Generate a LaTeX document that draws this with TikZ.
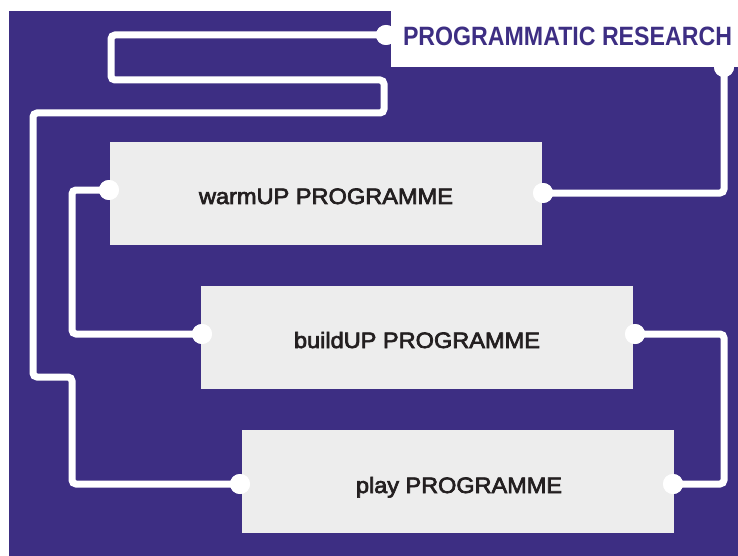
\documentclass[tikz,border=0pt]{standalone}
\usepackage{fontspec}
\setmainfont{Liberation Sans}
% medium-weight face for the programme labels
\newfontfamily\mediumface[FakeBold=3]{Liberation Sans}
\definecolor{deeppurple}{RGB}{61,46,131}
\definecolor{boxgray}{RGB}{237,237,237}
\definecolor{inkdark}{RGB}{35,31,32}
% set a label at a given size, stretched horizontally to a given width
\newcommand{\fitwidth}[3]{\resizebox{#1}{\height}{\fontsize{#2}{#2}\selectfont\bfseries #3}}
\newcommand{\fitmedium}[3]{\resizebox{#1}{\height}{\fontsize{#2}{#2}\selectfont\mediumface #3}}
\begin{document}
\begin{tikzpicture}[x=1pt,y=-1pt,
  progbox/.style={fill=boxgray,draw=none,minimum width=432pt,minimum height=103pt,inner sep=0pt},
  progtext/.style={anchor=base,inner sep=0pt,text=inkdark},
  wire/.style={draw=white,line width=7pt,rounded corners=4pt},
  pin/.style={circle,fill=white,minimum size=20pt,inner sep=0pt}]
\useasboundingbox (0,0) rectangle (738,556);
% background panel and title tab
\fill[deeppurple] (9,11) rectangle (738,556);
\fill[white] (391,0) rectangle (738,67);
\node[anchor=base,inner sep=0pt,text=deeppurple] (title) at (567.5,46)
  {\fitwidth{329pt}{26.5}{PROGRAMMATIC RESEARCH}};
% programme boxes
\node[progbox] (warm) at (326,193.5) {};
\node[progbox] (build) at (417,337.5) {};
\node[progbox] (play) at (458,481.5) {};
\node[progtext] (warmtxt) at (326,204) {\fitmedium{254pt}{22.3}{warmUP PROGRAMME}};
\node[progtext] (buildtxt) at (417,348) {\fitmedium{246pt}{22.3}{buildUP PROGRAMME}};
\node[progtext] (playtxt) at (459,493) {\fitmedium{206pt}{22.3}{play PROGRAMME}};
% connection pins
\node[pin] (pT) at (386,35) {};
\node[pin] (pR) at (724,67) {};
\node[pin] (wL) at (109,190) {};
\node[pin] (wR) at (543,193) {};
\node[pin] (bL) at (202,334) {};
\node[pin] (bR) at (635,334) {};
\node[pin] (yL) at (240,484) {};
\node[pin] (yR) at (673,484) {};
% wiring
\draw[wire] (pT.center) -- (111,35) -- (111,80) -- (384,80) -- (384,113) -- (33,113)
  -- (33,377) -- (72,377) -- (72,484) -- (yL.center);
\draw[wire] (wR.center) -- (724,193) -- (pR.center);
\draw[wire] (wL.center) -- (72,190) -- (72,334) -- (bL.center);
\draw[wire] (bR.center) -- (724,334) -- (724,484) -- (yR.center);
% pins again on top of the wires
\foreach \p in {pT,pR,wL,wR,bL,bR,yL,yR}
  \fill[white] (\p.center) circle (10pt);
\end{tikzpicture}
\end{document}
